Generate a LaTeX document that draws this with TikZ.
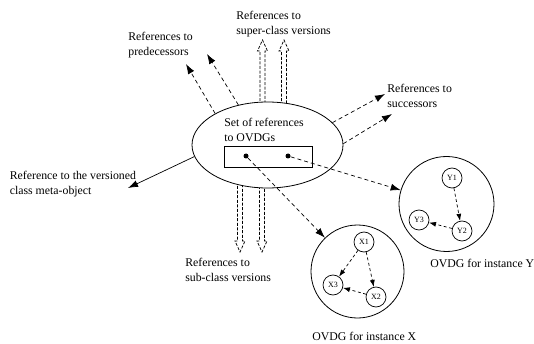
\documentclass[tikz,border=0pt]{standalone}
\usepackage{fontspec}
\setmainfont{Liberation Serif}
\usetikzlibrary{shapes.geometric,arrows.meta,calc}
\newcommand\twoln[2]{\begin{tabular}[t]{@{}l@{}}#1\\#2\end{tabular}}
\newcommand\hollowarrow[2]{%
  \coordinate (#2-hb) at ($(#2)!11pt!(#1)$);
  \draw[hollow] ($(#1)!2.5pt!90:(#2)$) -- ($(#2-hb)!2.5pt!90:(#2)$) -- ($(#2-hb)!5pt!90:(#2)$) -- (#2)
     -- ($(#2-hb)!5pt!-90:(#2)$) -- ($(#2-hb)!2.5pt!-90:(#2)$) -- ($(#1)!2.5pt!-90:(#2)$);
}
\begin{document}
\begin{tikzpicture}[x=1pt,y=-1pt,line width=0.7pt,
  lbl/.style={anchor=base west, inner sep=0pt, font=\fontsize{11.8}{15}\selectfont},
  dasharrow/.style={dash pattern=on 4pt off 3pt, -{Latex[length=10pt,width=7pt]}},
  solidarrow/.style={-{Latex[length=10pt,width=7pt]}},
  smallarrow/.style={dash pattern=on 3pt off 2.5pt, -{Latex[length=7pt,width=5pt]}},
  hollow/.style={dash pattern=on 3pt off 1.6pt, line width=0.75pt},
  vnode/.style={circle, draw, minimum size=20pt, inner sep=0pt, line width=0.7pt, font=\fontsize{8}{9}\selectfont},
  ovdg/.style={circle, draw, inner sep=0pt, line width=0.8pt},
  dot/.style={circle, fill=black, minimum size=5pt, inner sep=0pt}]
\useasboundingbox (0,0) rectangle (534,344);

% hollow double arrows (bases hidden under the ellipse)
\coordinate (sup1b) at (262.5,115); \coordinate (sup1t) at (262.5,40);
\coordinate (sup2b) at (284,115);   \coordinate (sup2t) at (284,40);
\coordinate (sub1b) at (240,175);   \coordinate (sub1t) at (240,252);
\coordinate (sub2b) at (262,175);   \coordinate (sub2t) at (262,252);
\hollowarrow{sup1b}{sup1t}
\hollowarrow{sup2b}{sup2t}
\hollowarrow{sub1b}{sub1t}
\hollowarrow{sub2b}{sub2t}

% main ellipse
\node[ellipse, draw, fill=white, minimum width=151pt, minimum height=86pt, inner sep=0pt, line width=0.8pt] (set) at (267.5,145) {};
\node[lbl] (settext) at (224,126.5) {\twoln{Set of references}{to OVDGs}};
\node[draw, minimum width=88pt, minimum height=21pt, inner sep=0pt] (box) at (268,156.5) {};
\node[dot] (d1) at (246,156) {};
\node[dot] (d2) at (288,156) {};

% OVDG circles
\node[ovdg, minimum size=93pt] (cx) at (357.5,271.5) {};
\node[ovdg, minimum size=95pt] (cy) at (446.5,204) {};

\node[vnode] (x1) at (364,242) {X1};
\node[vnode] (x2) at (376,297) {X2};
\node[vnode] (x3) at (333,285) {X3};
\node[vnode] (y1) at (452,178) {Y1};
\node[vnode] (y2) at (462,231) {Y2};
\node[vnode] (y3) at (419,220) {Y3};

\draw[smallarrow] (x1) -- (x3);
\draw[smallarrow] (x1) -- (x2);
\draw[smallarrow] (x2) -- (x3);
\draw[smallarrow] (y1) -- (y2);
\draw[smallarrow] (y2) -- (y3);

% arrows from the dots
\draw[dasharrow] (d1) -- (cx);
\draw[dasharrow] (d2) -- (cy);

% free-end arrows
\coordinate (pt1) at (186,64);
\coordinate (pt2) at (207,54);
\coordinate (st1) at (385,94);
\coordinate (st2) at (392,114);
\coordinate (mt) at (128,188);
\draw[dasharrow] (set.149) -- (pt1);
\draw[dasharrow] (set.126) -- (pt2);
\draw[dasharrow] (set.19) -- (st1);
\draw[dasharrow] (set.1) -- (st2);
\draw[solidarrow] (set.189) -- (mt);

% labels
\node[lbl] (lsup) at (236,19.5) {\twoln{References to}{super-class versions}};
\node[lbl] (lpred) at (128,41) {\twoln{References to}{predecessors}};
\node[lbl] (lsucc) at (387,92.5) {\twoln{References to}{successors}};
\node[lbl] (lmeta) at (9.5,180) {\twoln{Reference to the versioned}{class meta-object}};
\node[lbl] (lsub) at (185,266) {\twoln{References to}{sub-class versions}};
\node[lbl] (lx) at (312,340) {OVDG for instance X};
\node[lbl] (ly) at (430,267) {OVDG for instance Y};
\end{tikzpicture}
\end{document}
